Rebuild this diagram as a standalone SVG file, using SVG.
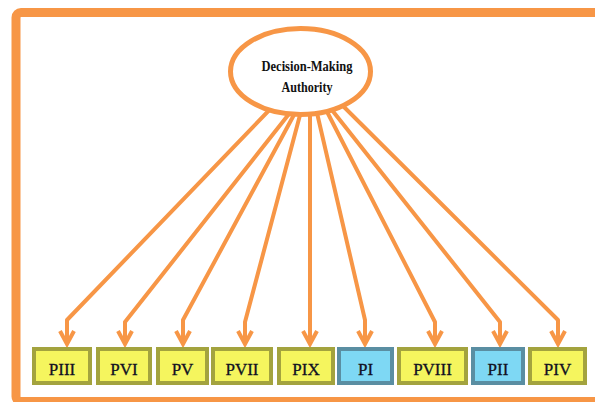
<svg xmlns="http://www.w3.org/2000/svg" width="595" height="402" viewBox="0 0 595 402">
<style>
.frame{fill:#ffffff;stroke:#f79646;stroke-width:9}
.conn{fill:none;stroke:#f79646;stroke-width:4;stroke-linejoin:round}
.yb{fill:#f5f55e;stroke:#a3a33e;stroke-width:4}
.bb{fill:#7ed8f4;stroke:#5a8ea2;stroke-width:4}
.lbl{font-family:"Liberation Serif","Times New Roman",serif;font-size:17px;fill:#111122;stroke:#111122;stroke-width:0.3;text-anchor:middle}
.el{fill:#ffffff;stroke:#f79646;stroke-width:5}
.et{font-family:"Liberation Serif","Times New Roman",serif;font-size:14px;font-weight:bold;fill:#111111;text-anchor:middle}
</style>
<defs>
<marker id="ah" markerUnits="userSpaceOnUse" viewBox="-16 -10 20 20" refX="0" refY="0" markerWidth="20" markerHeight="20" orient="auto" overflow="visible">
<path d="M-13,-7 L0,0 L-13,7" fill="none" stroke="#f79646" stroke-width="4" stroke-linejoin="miter"/>
</marker>
</defs>
<rect class="frame" x="16" y="12.5" width="600" height="389" rx="5"/>
<g id="connectors">
<polyline class="conn" points="279,100 67,320 67,344" marker-end="url(#ah)"/>
<polyline class="conn" points="300,100 125,322 125,344" marker-end="url(#ah)"/>
<polyline class="conn" points="302,100 183,320 183,344" marker-end="url(#ah)"/>
<polyline class="conn" points="304,100 245,322 245,344" marker-end="url(#ah)"/>
<polyline class="conn" points="310,100 310,344" marker-end="url(#ah)"/>
<polyline class="conn" points="314,100 365,320 365,344" marker-end="url(#ah)"/>
<polyline class="conn" points="321,100 435,322 435,344" marker-end="url(#ah)"/>
<polyline class="conn" points="324,100 500,322 500,344" marker-end="url(#ah)"/>
<polyline class="conn" points="337,100 558,320 558,344" marker-end="url(#ah)"/>
</g>
<g id="authority">
<ellipse class="el" cx="300.5" cy="71.5" rx="70" ry="43"/>
<text class="et" x="307" y="71" textLength="91" lengthAdjust="spacingAndGlyphs">Decision-Making</text>
<text class="et" x="307" y="92" textLength="51" lengthAdjust="spacingAndGlyphs">Authority</text>
</g>
<g id="PIII"><rect class="yb" x="34" y="349" width="56" height="34"/><text class="lbl" x="62" y="375">PIII</text></g>
<g id="PVI"><rect class="yb" x="98" y="349" width="52" height="34"/><text class="lbl" x="124" y="375">PVI</text></g>
<g id="PV"><rect class="yb" x="158" y="349" width="49" height="34"/><text class="lbl" x="182.5" y="375">PV</text></g>
<g id="PVII"><rect class="yb" x="213" y="349" width="58" height="34"/><text class="lbl" x="242" y="375">PVII</text></g>
<g id="PIX"><rect class="yb" x="279" y="349" width="54" height="34"/><text class="lbl" x="306" y="375">PIX</text></g>
<g id="PI"><rect class="bb" x="339" y="349" width="53" height="34"/><text class="lbl" x="365.5" y="375">PI</text></g>
<g id="PVIII"><rect class="yb" x="399" y="349" width="67" height="34"/><text class="lbl" x="432.5" y="375">PVIII</text></g>
<g id="PII"><rect class="bb" x="473" y="349" width="50" height="34"/><text class="lbl" x="498" y="375">PII</text></g>
<g id="PIV"><rect class="yb" x="530" y="349" width="55" height="34"/><text class="lbl" x="557.5" y="375">PIV</text></g>
</svg>
